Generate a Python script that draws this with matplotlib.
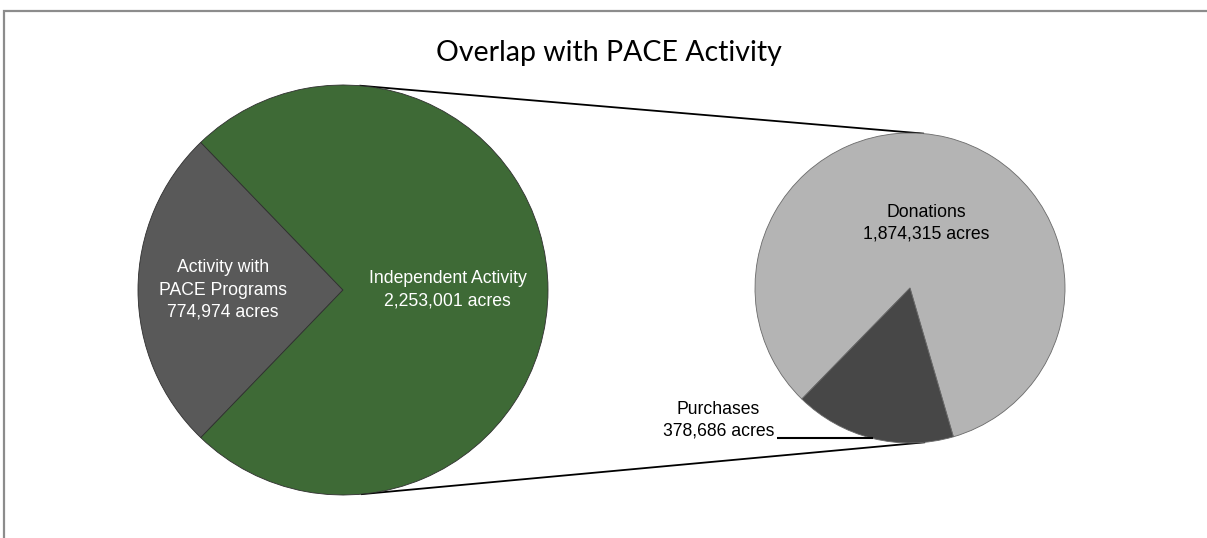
import numpy as np
import matplotlib
matplotlib.use('Agg')
import matplotlib.pyplot as plt
from matplotlib.patches import Rectangle

# data
left_labels = ['Activity with\nPACE Programs', 'Independent Activity']
left_acres = [774974, 2253001]
left_colors = ['#595959', '#3e6a36']

right_labels = ['Donations', 'Purchases']
right_acres = [1874315, 378686]
right_colors = ['#b4b4b4', '#474747']

title = 'Overlap with PACE Activity'

W, H = 1207, 538
fig = plt.figure(figsize=(W / 100, H / 100), dpi=100)
ax = fig.add_axes([0, 0, 1, 1])

# pie geometry in pixel units (y measured from bottom)
c1, r1 = np.array([343.0, H - 290.0]), 205.0
c2, r2 = np.array([910.0, H - 288.0]), 155.0

# left pie: PACE wedge centred on the left side
frac_pace = left_acres[0] / sum(left_acres)
start_left = 180 - frac_pace * 360 / 2
w1, _ = ax.pie(left_acres, colors=left_colors, startangle=start_left,
               center=tuple(c1), radius=r1, frame=True,
               wedgeprops=dict(edgecolor='#2f2f2f', linewidth=0.6))

# right pie: donations first, purchases wedge at lower left
frac_purch = right_acres[1] / sum(right_acres)
purch_mid = 256.0
start_right = purch_mid + frac_purch * 360 / 2
w2, _ = ax.pie(right_acres, colors=right_colors, startangle=start_right,
               center=tuple(c2), radius=r2, frame=True,
               wedgeprops=dict(edgecolor='#6a6a6a', linewidth=0.6))

font = 'Liberation Sans'
fs = 12.7
ls = 1.4

# labels inside left pie
for wedge, lab, val, dist in zip(w1, left_labels, left_acres, [0.585, 0.51]):
    mid = np.deg2rad((wedge.theta1 + wedge.theta2) / 2)
    x = c1[0] + dist * r1 * np.cos(mid)
    y = c1[1] + dist * r1 * np.sin(mid)
    ax.text(x, y, f'{lab}\n{val:,} acres', color='white', ha='center', va='center',
            fontsize=fs, family=font, linespacing=ls)

# donations label inside right pie
wd = w2[0]
mid = np.deg2rad((wd.theta1 + wd.theta2) / 2)
ax.text(c2[0] + 0.43 * r2 * np.cos(mid), c2[1] + 0.43 * r2 * np.sin(mid),
        f'{right_labels[0]}\n{right_acres[0]:,} acres', color='black',
        ha='center', va='center', fontsize=fs, family=font, linespacing=ls)

# purchases label with leader line
wp = w2[1]
mid = np.deg2rad((wp.theta1 + wp.theta2) / 2)
px = c2[0] + r2 * np.cos(mid)
py = c2[1] + r2 * np.sin(mid)
ax.plot([777, px], [py, py], color='black', lw=1.5, solid_capstyle='butt')
ax.text(774, py + 18, f'{right_labels[1]}\n{right_acres[1]:,} acres', color='black',
        ha='right', va='center', multialignment='center',
        fontsize=fs, family=font, linespacing=ls)

# connector lines (outer tangents between the two pies)
d = c2 - c1
dist = np.hypot(*d)
u = d / dist
perp = np.array([-u[1], u[0]])
a = (r1 - r2) / dist
b = np.sqrt(1 - a ** 2)
for s in (1, -1):
    n = a * u + s * b * perp
    p1 = c1 + r1 * n
    p2 = c2 + r2 * n
    ax.plot([p1[0], p2[0]], [p1[1], p2[1]], color='black', lw=1.3, zorder=0)

# chart border
ax.add_patch(Rectangle((4, -10), W + 10, H - 10 + 10 - 0.5, fill=False,
                       edgecolor='#8c8c8c', lw=1.6, zorder=5))

ax.text(W / 2 + 5, H - 53, title, ha='center', va='center', fontsize=20.5,
        family='Lato', color='black')

ax.set_xlim(0, W)
ax.set_ylim(0, H)
ax.set_aspect('equal')
ax.axis('off')

fig.savefig('out.png', dpi=100)
